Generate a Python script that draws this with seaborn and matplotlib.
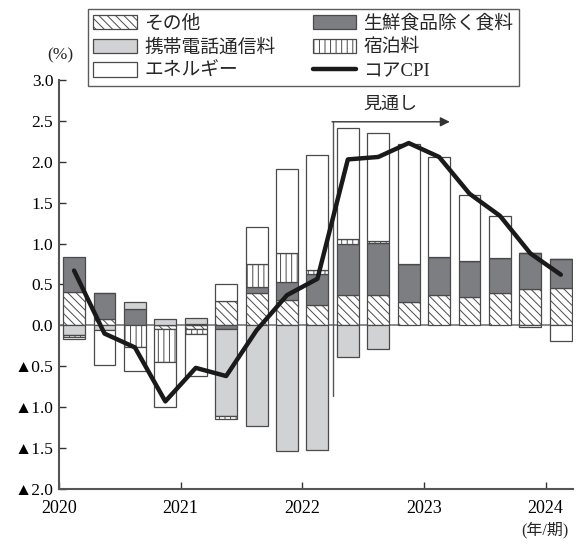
import numpy as np
import seaborn as sns
import matplotlib.pyplot as plt

# 2020Q1 - 2024Q1 (四半期)
quarters = ["2020Q1", "2020Q2", "2020Q3", "2020Q4",
            "2021Q1", "2021Q2", "2021Q3", "2021Q4",
            "2022Q1", "2022Q2", "2022Q3", "2022Q4",
            "2023Q1", "2023Q2", "2023Q3", "2023Q4", "2024Q1"]
sonota = [0.41, 0.08, 0.00, -0.05, -0.04, 0.30, 0.39, 0.31, 0.25,
          0.37, 0.37, 0.29, 0.37, 0.35, 0.39, 0.45, 0.46]
shokuryo = [0.43, 0.31, 0.20, 0.00, 0.02, -0.04, 0.08, 0.22, 0.38,
            0.63, 0.64, 0.46, 0.47, 0.44, 0.43, 0.44, 0.35]
keitai = [-0.12, -0.06, 0.09, 0.08, 0.07, -1.07, -1.23, -1.54, -1.52,
          -0.39, -0.29, 0.00, 0.00, 0.00, 0.00, 0.00, 0.00]
shukuhaku = [-0.02, 0.00, -0.27, -0.40, -0.06, -0.03, 0.28, 0.35, 0.05,
             0.06, 0.02, 0.00, 0.00, 0.00, 0.00, 0.00, 0.00]
energy = [-0.03, -0.43, -0.29, -0.55, -0.52, 0.21, 0.45, 1.03, 1.41,
          1.36, 1.32, 1.47, 1.22, 0.81, 0.52, -0.02, -0.19]
core_cpi = [0.67, -0.10, -0.27, -0.93, -0.52, -0.62, -0.06, 0.37, 0.57,
            2.03, 2.06, 2.23, 2.06, 1.61, 1.34, 0.88, 0.62]
years = ["2020", "2021", "2022", "2023", "2024"]

sns.set_style("ticks")
plt.rcParams["font.family"] = ["Liberation Serif", "Noto Sans CJK JP", "DejaVu Sans"]
plt.rcParams["hatch.linewidth"] = 0.7
plt.rcParams["hatch.color"] = "#222222"

fig = plt.figure(figsize=(5.77, 5.45), dpi=100)
ax = fig.add_axes([0.102, 0.103, 0.891, 0.750])

x = np.arange(len(quarters)) + 0.5
layers = [
    ("その他", sonota, "white", "\\\\\\\\"),
    ("生鮮食品除く食料", shokuryo, "#7d7e81", None),
    ("携帯電話通信料", keitai, "#d1d2d4", None),
    ("宿泊料", shukuhaku, "white", "|||"),
    ("エネルギー", energy, "white", None),
]
pos = np.zeros(len(x))
neg = np.zeros(len(x))
handles = {}
for name, vals, col, hatch in layers:
    v = np.array(vals)
    bottom = np.where(v >= 0, pos, neg)
    bars = ax.bar(x, v, width=0.72, bottom=bottom, color=col, hatch=hatch,
                  edgecolor="#4a4a4a", linewidth=0.9, zorder=2)
    handles[name] = bars
    pos = pos + np.where(v > 0, v, 0)
    neg = neg + np.where(v < 0, v, 0)

ax.axhline(0, color="#777777", lw=1.2, zorder=1)
sns.lineplot(x=x, y=core_cpi, color="#1a1a1a", lw=3.2, ax=ax, zorder=4,
             label="コアCPI", legend=False)
line = ax.get_lines()[-1]

# 見通し
ax.plot([9.0, 9.0], [-0.86, 2.49], color="#555555", lw=1.0, zorder=3)
ax.annotate("", xy=(12.85, 2.49), xytext=(8.98, 2.49),
            arrowprops=dict(arrowstyle="-|>", color="#333333", lw=1.0,
                            mutation_scale=14, shrinkA=0, shrinkB=0))
ax.text(10.9, 2.6, "見通し", fontsize=13, ha="center", va="bottom")

ax.set_xlim(0, 16.9)
ax.set_ylim(-2.0, 3.0)
ax.set_xticks([0, 4, 8, 12, 16])
ax.set_xticklabels(years, fontsize=13)
yt = np.arange(-2.0, 3.01, 0.5)
ax.set_yticks(yt)
ax.set_yticklabels([("▲" if v < -1e-9 else "") + f"{abs(v):.1f}" for v in yt],
                   fontsize=12.5)
ax.tick_params(direction="in", length=5, width=1, colors="#333333",
               labelcolor="black")
ax.tick_params(axis="x", pad=8)
ax.tick_params(axis="y", pad=4)
sns.despine(ax=ax)
for s in ["left", "bottom"]:
    ax.spines[s].set_color("#555555")
    ax.spines[s].set_linewidth(1.5)

fig.text(0.105, 0.898, "(%)", fontsize=12.5, ha="center", va="center")
fig.text(0.945, 0.028, "(年/期)", fontsize=11.5, ha="center", va="center")

order = ["その他", "携帯電話通信料", "エネルギー", "生鮮食品除く食料", "宿泊料"]
hs = [handles[n] for n in order] + [line]
labels = order + ["コアCPI"]
leg = fig.legend(hs, labels, ncol=2, loc="upper left",
                 bbox_to_anchor=(0.136, 1.0), frameon=True, fancybox=False,
                 fontsize=13.5, handlelength=2.3, handleheight=0.8,
                 columnspacing=2.0, labelspacing=0.32, borderpad=0.3,
                 handletextpad=0.4)
leg.get_frame().set_edgecolor("#333333")
leg.get_frame().set_linewidth(1.0)

fig.savefig("out.png", dpi=100)
